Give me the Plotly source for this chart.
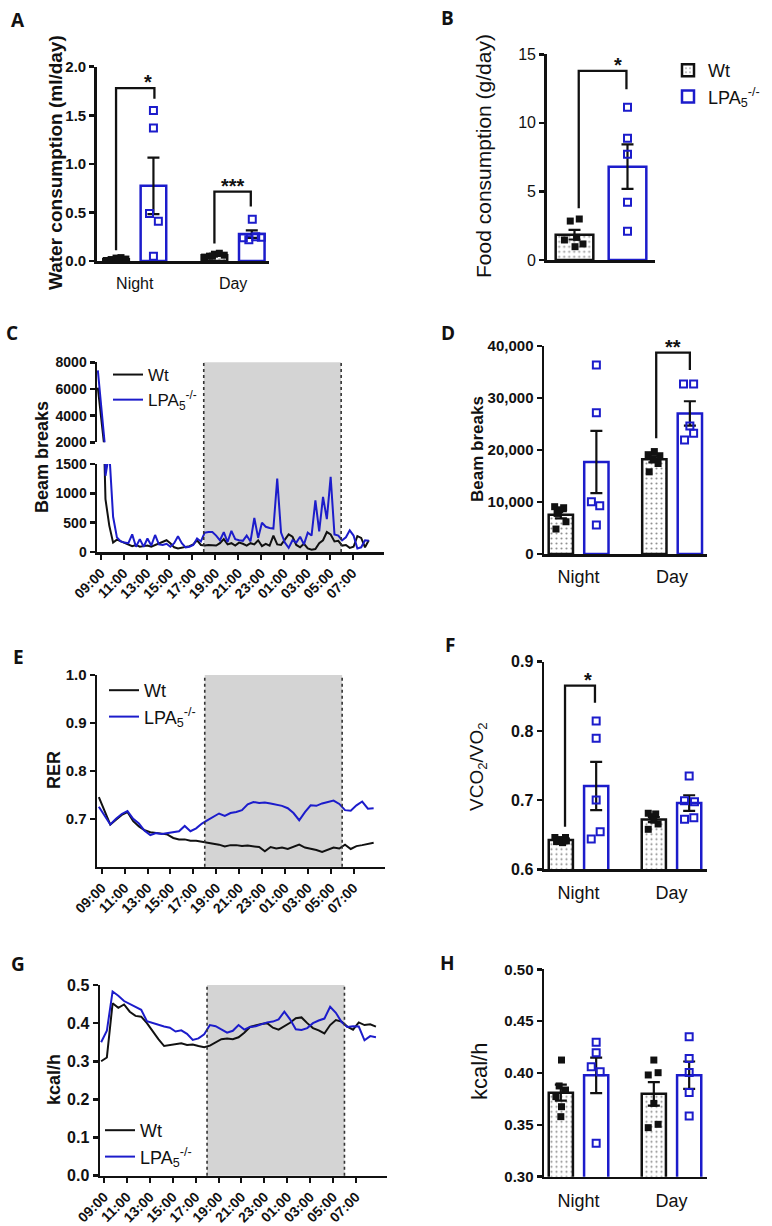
import numpy as np
import plotly.graph_objects as go

# ------------------------------------------------------------------ DATA
GROUPS = ["Night", "Day"]

# A: water consumption (ml/day)
A_WT_NIGHT = [0.005, 0.015, 0.03, 0.035, 0.02, 0.01]
A_LPA_NIGHT = [1.55, 1.37, 0.49, 0.41, 0.05]
A_WT_DAY = [0.04, 0.05, 0.07, 0.08, 0.06, 0.05]
A_LPA_DAY = [0.43, 0.24, 0.22, 0.25, 0.245]

# B: food consumption (g/day)
B_WT = [2.84, 2.99, 1.46, 0.97, 1.17, 1.65]
B_LPA = [11.14, 8.88, 7.71, 4.21, 2.09]

# D: beam breaks
D_WT_NIGHT = [9100, 8900, 8500, 7800, 6200, 4800]
D_LPA_NIGHT = [36350, 27180, 10060, 9290, 5580]
D_WT_DAY = [19700, 19100, 18900, 18300, 17400, 15800]
D_LPA_DAY = [32690, 32690, 24620, 21920, 23200]

# F: VCO2/VO2
F_WT_NIGHT = [0.646, 0.646, 0.643, 0.640, 0.6385, 0.641]
F_LPA_NIGHT = [0.8142, 0.7892, 0.7001, 0.6544, 0.6438]
F_WT_DAY = [0.681, 0.680, 0.676, 0.6655, 0.6578, 0.671]
F_LPA_DAY = [0.7348, 0.6992, 0.6977, 0.6722, 0.6746]

# H: kcal/h
H_WT_NIGHT = [0.4125, 0.3875, 0.3836, 0.3772, 0.3675, 0.3579]
H_LPA_NIGHT = [0.4296, 0.4196, 0.4061, 0.4013, 0.3322]
H_WT_DAY = [0.4125, 0.3981, 0.4003, 0.3707, 0.3473, 0.3505]
H_LPA_DAY = [0.435, 0.4141, 0.4006, 0.3813, 0.3585]

# time courses: hours after 09:00
TICK_HOURS = [0, 2, 4, 6, 8, 10, 12, 14, 16, 18, 20, 22]
TICK_LABELS = ["09:00", "11:00", "13:00", "15:00", "17:00", "19:00",
               "21:00", "23:00", "01:00", "03:00", "05:00", "07:00"]
DARK_START = 9    # 18:00
DARK_END = 21     # 06:00

C_START, C_STEP = -0.25, 1 / 3      # 20-min bins
C_WT = [6100, 3500, 900, 450, 160, 210, 180, 150, 130, 100, 120, 90, 100, 110, 90,
        120, 150, 180, 200, 150, 80, 60, 70, 90, 100, 130, 200, 120, 110, 120,
        120, 110, 150, 220, 130, 150, 110, 160, 140, 110, 150, 130, 200, 100, 140,
        110, 280, 130, 120, 220, 300, 260, 120, 80, 140, 60, 40, 50, 150, 200,
        340, 300, 180, 190, 110, 120, 70, 90, 270, 240, 80, 200]
C_LPA = [7400, 4300, 1300, 1700, 600, 250, 180, 160, 150, 300, 90, 220, 90, 230, 110,
         290, 130, 120, 140, 90, 150, 270, 150, 80, 90, 120, 230, 180, 330, 340,
         340, 280, 200, 340, 170, 360, 220, 200, 190, 280, 180, 580, 240, 500, 430,
         410, 400, 1250, 330, 160, 70, 200, 160, 260, 130, 330, 280, 880, 350, 940,
         560, 1280, 300, 280, 200, 250, 370, 280, 60, 80, 200, 190]

EG_START, EG_STEP = -0.25, 0.5      # 30-min bins
E_WT = [0.745, 0.718, 0.688, 0.698, 0.708, 0.714, 0.695, 0.684, 0.676, 0.672,
        0.671, 0.669, 0.667, 0.660, 0.657, 0.657, 0.654, 0.654, 0.652, 0.650,
        0.647, 0.646, 0.642, 0.645, 0.645, 0.643, 0.644, 0.642, 0.641, 0.632,
        0.641, 0.638, 0.640, 0.637, 0.642, 0.646, 0.640, 0.638, 0.635, 0.631,
        0.636, 0.640, 0.638, 0.646, 0.637, 0.643, 0.645, 0.648, 0.650]
E_LPA = [0.725, 0.705, 0.688, 0.700, 0.710, 0.716, 0.700, 0.690, 0.675, 0.666,
         0.670, 0.668, 0.670, 0.673, 0.674, 0.685, 0.674, 0.680, 0.690, 0.697,
         0.704, 0.711, 0.706, 0.712, 0.714, 0.718, 0.730, 0.735, 0.733, 0.734,
         0.732, 0.730, 0.727, 0.722, 0.712, 0.697, 0.714, 0.728, 0.727, 0.732,
         0.735, 0.738, 0.731, 0.718, 0.717, 0.728, 0.736, 0.721, 0.722]
G_WT = [0.300, 0.310, 0.452, 0.440, 0.449, 0.430, 0.419, 0.417, 0.400, 0.378,
        0.358, 0.340, 0.342, 0.345, 0.347, 0.343, 0.344, 0.340, 0.337, 0.341,
        0.350, 0.358, 0.360, 0.358, 0.363, 0.375, 0.390, 0.395, 0.398, 0.400,
        0.388, 0.383, 0.392, 0.401, 0.413, 0.415, 0.400, 0.387, 0.381, 0.373,
        0.395, 0.408, 0.404, 0.391, 0.383, 0.402, 0.395, 0.397, 0.391]
G_LPA = [0.350, 0.380, 0.483, 0.472, 0.458, 0.450, 0.443, 0.435, 0.405, 0.400,
         0.395, 0.391, 0.388, 0.378, 0.381, 0.372, 0.356, 0.360, 0.371, 0.395,
         0.392, 0.384, 0.375, 0.380, 0.395, 0.383, 0.390, 0.392, 0.397, 0.402,
         0.404, 0.410, 0.430, 0.410, 0.384, 0.382, 0.387, 0.400, 0.407, 0.412,
         0.443, 0.427, 0.403, 0.390, 0.392, 0.391, 0.355, 0.366, 0.363]

# ------------------------------------------------------------------ STYLE
W, H = 772, 1226
FONT = "Liberation Sans, Arial, Helvetica, sans-serif"
LFONT = "Open Sans, Liberation Sans, Arial, sans-serif"
BLUE = "#1C1CCB"
BLACK = "#111111"
GREY = "#D4D4D4"
LPA_NAME = "LPA<sub>5</sub><sup>-/-</sup>"
BAR_OFFSET = 0.19
BAR_WIDTH = 0.26
HOUR_PX = 11.45

GEOM = {
    "A": dict(x0=96.7, x1=269.3, yt=66.7, yb=261.0, c0=134.75, unit=98.35),
    "B": dict(x0=546.7, x1=655.0, yt=54.3, yb=260.0, c0=574.5, unit=53.0),
    "C": dict(x0=97.0, x1=384.0, yt=464.0, yb=552.0, t0=100.7),
    "Cu": dict(x0=97.0, x1=384.0, yt=362.3, yb=442.3),
    "D": dict(x0=544.0, x1=706.7, yt=346.0, yb=554.0, c0=578.6, unit=93.5),
    "E": dict(x0=97.0, x1=385.0, yt=675.0, yb=866.7, t0=101.7),
    "F": dict(x0=544.0, x1=706.7, yt=661.7, yb=869.3, c0=578.5, unit=93.0),
    "G": dict(x0=100.0, x1=387.0, yt=985.0, yb=1175.7, t0=104.0),
    "H": dict(x0=544.0, x1=706.7, yt=969.3, yb=1176.7, c0=578.5, unit=93.0),
}

# horizontal spread of the dots (fraction of group spacing)
JIT = {
    "A": [[-0.1, -0.05, 0.0, 0.05, 0.1, 0.02], [0, 0, -0.04, 0.05, 0],
          [-0.1, -0.05, 0.0, 0.05, 0.1, -0.02], [0.005, -0.086, -0.03, 0.04, 0.097]],
    "B": [[-0.08, 0.09, -0.19, 0.01, 0.16, 0.04], [0, 0, 0, 0, 0]],
    "D": [[-0.066, 0.03, -0.012, -0.04, 0.055, -0.052], [0, 0, -0.053, 0.036, 0],
          [0, -0.066, 0.059, -0.012, 0.04, -0.055], [-0.068, 0.04, 0, -0.057, 0.04]],
    "F": [[-0.064, 0.05, -0.01, -0.046, 0.018, 0.06], [0, 0, 0, 0.043, -0.053],
          [-0.06, 0.02, -0.018, 0.046, -0.06, 0], [0, -0.05, 0.057, -0.05, 0.05]],
    "H": [[0.007, -0.018, 0.05, -0.053, 0.007, 0], [0, 0, -0.053, 0.043, 0],
          [0, -0.06, 0.046, 0, -0.06, 0.046], [0, 0, 0, 0, 0]],
}

BRACKETS = {
    "A": [dict(x0=-0.19, x1=0.2, ytop=1.78, yl=0.11, yr=1.67, text="*", tx=0.13),
          dict(x0=0.81, x1=1.18, ytop=0.714, yl=0.18, yr=0.56, text="***", tx=1.0)],
    "B": [dict(x0=0.08, x1=0.98, ytop=13.79, yl=3.77, yr=12.45, text="*", tx=0.815)],
    "D": [dict(x0=0.83, x1=1.19, ytop=38720, yl=22240, yr=35380, text="**", tx=1.01)],
    "F": [dict(x0=-0.145, x1=0.177, ytop=0.8653, yl=0.6616, yr=0.8407, text="*", tx=0.105)],
}


def xdom(g):
    return [g["x0"] / W, g["x1"] / W]


def ydom(g):
    return [1 - g["yb"] / H, 1 - g["yt"] / H]


def bar_xrange(g):
    return [(g["x0"] - g["c0"]) / g["unit"], (g["x1"] - g["c0"]) / g["unit"]]


def time_xrange(g):
    return [(g["x0"] - g["t0"]) / HOUR_PX, (g["x1"] - g["t0"]) / HOUR_PX]


def mean_sem(v):
    a = np.asarray(v, float)
    return float(a.mean()), float(a.std(ddof=1) / np.sqrt(len(a)))


def tfont(size, bold=False):
    return dict(family=FONT, size=size, color=BLACK, weight="bold" if bold else "normal")


fig = go.Figure()
shapes, annotations = [], []


def add_bar_set(xa, ya, xs, sets, jits, kind, width, show=False):
    stats = [mean_sem(s) for s in sets]
    means = [m for m, _ in stats]
    sems = [s for _, s in stats]
    if kind == "wt":
        marker = dict(color="white", line=dict(color=BLACK, width=2.5),
                      pattern=dict(shape=".", fgcolor="#222222", bgcolor="white",
                                   size=5, solidity=0.14))
        name = "Wt"
    else:
        marker = dict(color="white", line=dict(color=BLUE, width=2.5))
        name = LPA_NAME
    fig.add_trace(go.Bar(x=xs, y=means, width=width, marker=marker, name=name,
                         error_y=dict(type="data", array=sems, visible=True, color=BLACK,
                                      thickness=2.2, width=6),
                         xaxis=xa, yaxis=ya, showlegend=show, legend="legend",
                         hoverinfo="skip"))
    px, py = [], []
    for x, s, j in zip(xs, sets, jits):
        px += [x + jj for jj in j]
        py += list(s)
    if kind == "wt":
        mk = dict(symbol="square", size=7, color=BLACK)
    else:
        mk = dict(symbol="square-open", size=7, color=BLUE, line=dict(width=2, color=BLUE))
    fig.add_trace(go.Scatter(x=px, y=py, mode="markers", marker=mk, cliponaxis=False,
                             showlegend=False, xaxis=xa, yaxis=ya, hoverinfo="skip"))


def add_brackets(xa, ya, key, size=20):
    for b in BRACKETS.get(key, []):
        shapes.append(dict(type="path", xref=xa, yref=ya,
                           path=f"M {b['x0']},{b['yl']} L {b['x0']},{b['ytop']} "
                                f"L {b['x1']},{b['ytop']} L {b['x1']},{b['yr']}",
                           line=dict(color=BLACK, width=2.3)))
        annotations.append(dict(xref=xa, yref=ya, x=b["tx"], y=b["ytop"], text=b["text"],
                                showarrow=False, xanchor="center", yanchor="bottom",
                                yshift=-7, font=tfont(size, True)))


def yax(g, rng, vals, texts, size, bold, anchor):
    return dict(domain=ydom(g), range=rng, anchor=anchor, showline=True, linecolor=BLACK,
                linewidth=2.5, ticks="outside", ticklen=5, tickwidth=2.5, tickcolor=BLACK,
                tickmode="array", tickvals=vals, ticktext=texts, tickfont=tfont(size, bold),
                showgrid=False, zeroline=False, fixedrange=True, automargin=False)


def xbar(g, labels, size, anchor, standoff):
    return dict(domain=xdom(g), range=bar_xrange(g), anchor=anchor, showline=True,
                linecolor=BLACK, linewidth=2.5, ticks="", tickmode="array",
                tickvals=list(range(len(labels))), ticktext=labels, tickfont=tfont(size),
                ticklabelstandoff=standoff, showticklabels=len(labels) > 0,
                showgrid=False, zeroline=False, fixedrange=True, automargin=False)


def xtime(g, anchor):
    return dict(domain=xdom(g), range=time_xrange(g), anchor=anchor, showline=True,
                linecolor=BLACK, linewidth=2.5, ticks="outside", ticklen=5, tickwidth=2,
                tickcolor=BLACK, tickmode="array", tickvals=TICK_HOURS, ticktext=TICK_LABELS,
                tickangle=-45, tickfont=tfont(14, True), showgrid=False, zeroline=False,
                fixedrange=True, automargin=False)


def hours(start, step, n):
    return [start + i * step for i in range(n)]


def add_lines(xa, ya, t, wt, lpa, legend, show=True):
    fig.add_trace(go.Scatter(x=t, y=wt, mode="lines", line=dict(color=BLACK, width=2),
                             name="Wt", legend=legend, showlegend=show,
                             xaxis=xa, yaxis=ya, hoverinfo="skip"))
    fig.add_trace(go.Scatter(x=t, y=lpa, mode="lines", line=dict(color=BLUE, width=2),
                             name=LPA_NAME, legend=legend, showlegend=show,
                             xaxis=xa, yaxis=ya, hoverinfo="skip"))


def add_dark(xa, yref, y0, y1):
    shapes.append(dict(type="rect", xref=xa, yref=yref, x0=DARK_START, x1=DARK_END,
                       y0=y0, y1=y1, fillcolor=GREY, line=dict(width=0), layer="below"))
    for xv in (DARK_START, DARK_END):
        shapes.append(dict(type="line", xref=xa, yref=yref, x0=xv, x1=xv, y0=y0, y1=y1,
                           line=dict(color="#333333", width=1.6, dash="dot")))


# ---------------- A
xs_w = [i - BAR_OFFSET for i in range(len(GROUPS))]
xs_l = [i + BAR_OFFSET for i in range(len(GROUPS))]
add_bar_set("x", "y", xs_w, [A_WT_NIGHT, A_WT_DAY], [JIT["A"][0], JIT["A"][2]], "wt", BAR_WIDTH)
add_bar_set("x", "y", xs_l, [A_LPA_NIGHT, A_LPA_DAY], [JIT["A"][1], JIT["A"][3]], "lpa", BAR_WIDTH)
add_brackets("x", "y", "A")

# ---------------- B
add_bar_set("x2", "y2", [0], [B_WT], [JIT["B"][0]], "wt", 0.71, show=True)
add_bar_set("x2", "y2", [1], [B_LPA], [JIT["B"][1]], "lpa", 0.71, show=True)
add_brackets("x2", "y2", "B")

# ---------------- C (broken axis: lower y3, upper y4)
tc = hours(C_START, C_STEP, len(C_WT))
add_lines("x3", "y3", tc, C_WT, C_LPA, "legend2", True)
add_lines("x3", "y4", tc, C_WT, C_LPA, "legend2", False)
add_dark("x3", "paper", 1 - GEOM["C"]["yb"] / H, 1 - GEOM["Cu"]["yt"] / H)

# ---------------- D
add_bar_set("x4", "y5", xs_w, [D_WT_NIGHT, D_WT_DAY], [JIT["D"][0], JIT["D"][2]], "wt", BAR_WIDTH)
add_bar_set("x4", "y5", xs_l, [D_LPA_NIGHT, D_LPA_DAY], [JIT["D"][1], JIT["D"][3]], "lpa", BAR_WIDTH)
add_brackets("x4", "y5", "D")

# ---------------- E
te = hours(EG_START, EG_STEP, len(E_WT))
add_lines("x5", "y6", te, E_WT, E_LPA, "legend3", True)
add_dark("x5", "y6 domain", 0, 1)

# ---------------- F
add_bar_set("x6", "y7", xs_w, [F_WT_NIGHT, F_WT_DAY], [JIT["F"][0], JIT["F"][2]], "wt", BAR_WIDTH)
add_bar_set("x6", "y7", xs_l, [F_LPA_NIGHT, F_LPA_DAY], [JIT["F"][1], JIT["F"][3]], "lpa", BAR_WIDTH)
add_brackets("x6", "y7", "F")

# ---------------- G
tg = hours(EG_START, EG_STEP, len(G_WT))
add_lines("x7", "y8", tg, G_WT, G_LPA, "legend4", True)
add_dark("x7", "y8 domain", 0, 1)

# ---------------- H
add_bar_set("x8", "y9", xs_w, [H_WT_NIGHT, H_WT_DAY], [JIT["H"][0], JIT["H"][2]], "wt", BAR_WIDTH)
add_bar_set("x8", "y9", xs_l, [H_LPA_NIGHT, H_LPA_DAY], [JIT["H"][1], JIT["H"][3]], "lpa", BAR_WIDTH)

# ---------------- text: panel letters and axis titles
for letter, x, y in [("A", 18, 20), ("B", 448, 18), ("C", 12, 333), ("D", 448, 333),
                     ("E", 18, 657), ("F", 450, 645), ("G", 18, 964), ("H", 448, 963)]:
    annotations.append(dict(xref="paper", yref="paper", x=x / W, y=1 - y / H, text=letter,
                            showarrow=False, xanchor="center", yanchor="middle",
                            font=dict(family=LFONT, size=19, color=BLACK, weight="bold")))

for text, x, y, size, bold in [
        ("Water consumption (ml/day)", 55, 163, 19, True),
        ("Food consumption (g/day)", 483, 156, 21, False),
        ("Beam breaks", 42, 457, 18, True),
        ("Beam breaks", 478, 449, 17, True),
        ("RER", 54, 770, 18, True),
        ("VCO<sub>2</sub>/VO<sub>2</sub>", 478, 767, 19, False),
        ("kcal/h", 54, 1080, 18, True),
        ("kcal/h", 479, 1072, 22, False)]:
    annotations.append(dict(xref="paper", yref="paper", x=x / W, y=1 - y / H, text=text,
                            showarrow=False, textangle=-90, xanchor="center",
                            yanchor="middle", font=tfont(size, bold)))

lg = dict(xanchor="left", yanchor="top", bgcolor="rgba(0,0,0,0)", borderwidth=0,
          font=dict(family=FONT, size=18, color=BLACK), traceorder="normal", itemwidth=30)

fig.update_layout(
    width=W, height=H, margin=dict(l=0, r=0, t=0, b=0, pad=0, autoexpand=False),
    paper_bgcolor="white", plot_bgcolor="rgba(0,0,0,0)",
    barmode="overlay", hovermode=False,
    xaxis=xbar(GEOM["A"], GROUPS, 16, "y", 6),
    yaxis=yax(GEOM["A"], [0, 2.0], [0, 0.5, 1.0, 1.5, 2.0],
              ["0.0", "0.5", "1.0", "1.5", "2.0"], 15, True, "x"),
    xaxis2=xbar(GEOM["B"], [], 16, "y2", 6),
    yaxis2=yax(GEOM["B"], [0, 15], [0, 5, 10, 15], ["0", "5", "10", "15"], 16, False, "x2"),
    xaxis3=xtime(GEOM["C"], "y3"),
    yaxis3=yax(GEOM["C"], [0, 1500], [0, 500, 1000, 1500], ["0", "500", "1000", "1500"],
               14, True, "x3"),
    yaxis4=yax(GEOM["Cu"], [2000, 8000], [2000, 4000, 6000, 8000],
               ["2000", "4000", "6000", "8000"], 14, True, "x3"),
    xaxis4=xbar(GEOM["D"], GROUPS, 18, "y5", 5),
    yaxis5=yax(GEOM["D"], [0, 40000], [0, 10000, 20000, 30000, 40000],
               ["0", "10,000", "20,000", "30,000", "40,000"], 15, True, "x4"),
    xaxis5=xtime(GEOM["E"], "y6"),
    yaxis6=yax(GEOM["E"], [0.6, 1.0], [0.7, 0.8, 0.9, 1.0], ["0.7", "0.8", "0.9", "1.0"],
               15, True, "x5"),
    xaxis6=xbar(GEOM["F"], GROUPS, 18, "y7", 6),
    yaxis7=yax(GEOM["F"], [0.6, 0.9], [0.6, 0.7, 0.8, 0.9], ["0.6", "0.7", "0.8", "0.9"],
               16, True, "x6"),
    xaxis7=xtime(GEOM["G"], "y8"),
    yaxis8=yax(GEOM["G"], [0, 0.5], [0, 0.1, 0.2, 0.3, 0.4, 0.5],
               ["0.0", "0.1", "0.2", "0.3", "0.4", "0.5"], 16, True, "x7"),
    xaxis8=xbar(GEOM["H"], GROUPS, 18, "y9", 6),
    yaxis9=yax(GEOM["H"], [0.3, 0.5], [0.30, 0.35, 0.40, 0.45, 0.50],
               ["0.30", "0.35", "0.40", "0.45", "0.50"], 15, True, "x8"),
    legend=lg | dict(x=668 / W, y=1 - 52 / H),
    legend2=lg | dict(x=108 / W, y=1 - 357 / H, font=dict(family=FONT, size=17, color=BLACK)),
    legend3=lg | dict(x=104 / W, y=1 - 672 / H),
    legend4=lg | dict(x=100 / W, y=1 - 1112 / H),
    shapes=shapes, annotations=annotations,
)

fig.write_html("out.html",
               config={"displayModeBar": False, "staticPlot": True},
               post_script="document.body.style.margin='0px';"
                           "document.documentElement.style.margin='0px';")
